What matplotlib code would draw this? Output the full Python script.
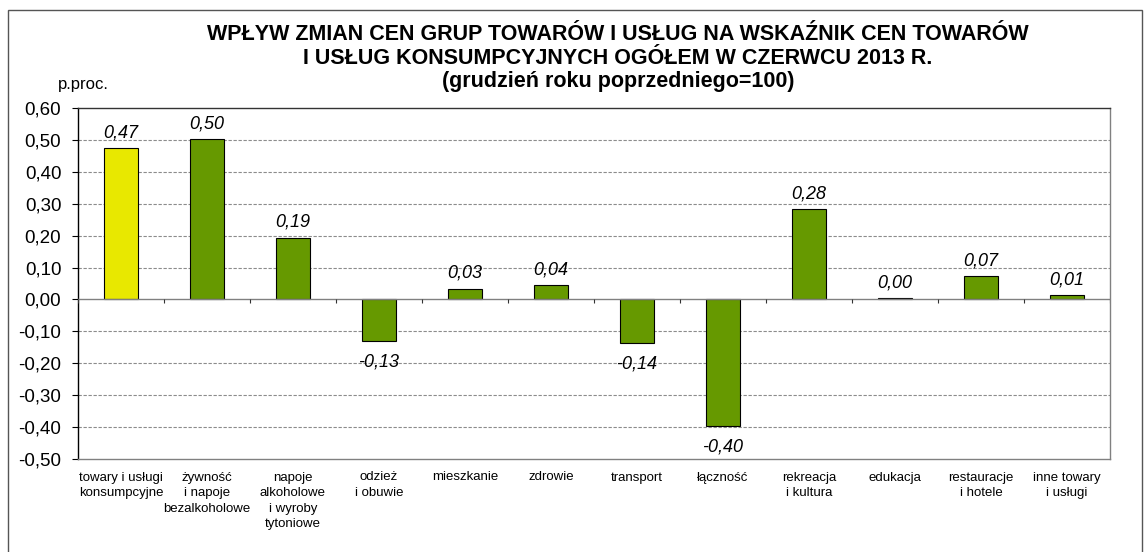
import matplotlib.pyplot as plt
import numpy as np

plt.rcParams['font.family'] = ['Liberation Sans', 'DejaVu Sans']

categories = ['towary i usługi\nkonsumpcyjne', 'żywność\ni napoje\nbezalkoholowe',
              'napoje\nalkoholowe\ni wyroby\ntytoniowe', 'odzież\ni obuwie', 'mieszkanie',
              'zdrowie', 'transport', 'łączność', 'rekreacja\ni kultura', 'edukacja',
              'restauracje\ni hotele', 'inne towary\ni usługi']
values = [0.474, 0.503, 0.194, -0.131, 0.034, 0.045, -0.137, -0.396, 0.283, 0.004, 0.073, 0.013]
bar_colors = ['#E8E800'] + ['#669900'] * 11
yticks = [0.6, 0.5, 0.4, 0.3, 0.2, 0.1, 0.0, -0.1, -0.2, -0.3, -0.4, -0.5]

fig = plt.figure(figsize=(11.44, 5.52), dpi=100)
ax = fig.add_axes([78/1144, 1 - 459/552, (1110-78)/1144, (459-108)/552])

x = np.arange(len(categories))
ax.bar(x, values, width=0.39, color=bar_colors, edgecolor='black', linewidth=0.8, zorder=3)

for xi, v in zip(x, values):
    lab = ('%.2f' % v).replace('.', ',')
    if v >= 0:
        ax.annotate(lab, (xi, v), xytext=(0, 5), textcoords='offset points',
                    ha='center', va='bottom', fontsize=13, style='italic')
    else:
        ax.annotate(lab, (xi, v), xytext=(0, -9), textcoords='offset points',
                    ha='center', va='top', fontsize=13, style='italic')

ax.set_xlim(-0.5, len(categories) - 0.5)
ax.set_ylim(-0.5, 0.6)
ax.set_yticks(yticks)
ax.set_yticklabels([('%.2f' % t).replace('.', ',') for t in yticks], fontsize=13.5)
ax.tick_params(axis='y', direction='out', length=4, width=0.8, pad=8)

ax.set_xticks(x)
ax.set_xticklabels(categories, fontsize=9.5, linespacing=1.4)
ax.tick_params(axis='x', length=0, pad=9)

# gridlines
for t in yticks:
    if t not in (0.6, 0.0, -0.5):
        ax.axhline(t, color='#8c8c8c', linestyle=(0, (3, 1.5)), linewidth=0.8, zorder=1)
ax.axhline(0, color='#808080', linewidth=1.0, zorder=4)
ax.vlines(np.arange(len(categories) + 1) - 0.5, -0.012, 0, color='#333333', linewidth=0.8, zorder=4)

ax.spines['left'].set_color('black')
ax.spines['top'].set_color('#333333')
ax.spines['right'].set_color('#808080')
ax.spines['bottom'].set_color('#808080')
for s in ax.spines.values():
    s.set_linewidth(1.0)

fig.text(58/1144, 1 - 85/552, 'p.proc.', fontsize=12, ha='left', va='center')

fig.text(618/1144, 1 - 35/552, 'WPŁYW ZMIAN CEN GRUP TOWARÓW I USŁUG NA WSKAŹNIK CEN TOWARÓW',
         fontsize=15.5, fontweight='bold', ha='center', va='center')
fig.text(618/1144, 1 - 58/552, 'I USŁUG KONSUMPCYJNYCH OGÓŁEM W CZERWCU 2013 R.',
         fontsize=15.5, fontweight='bold', ha='center', va='center')
fig.text(618/1144, 1 - 82/552, '(grudzień roku poprzedniego=100)',
         fontsize=15.5, fontweight='bold', ha='center', va='center')

# outer border
fig.patches.append(plt.Rectangle((8/1144, -0.02), (1142-8)/1144, 1.02 - 10/552, transform=fig.transFigure,
                                 fill=False, edgecolor='#555555', linewidth=1.0))

fig.savefig('out.png', dpi=100)
